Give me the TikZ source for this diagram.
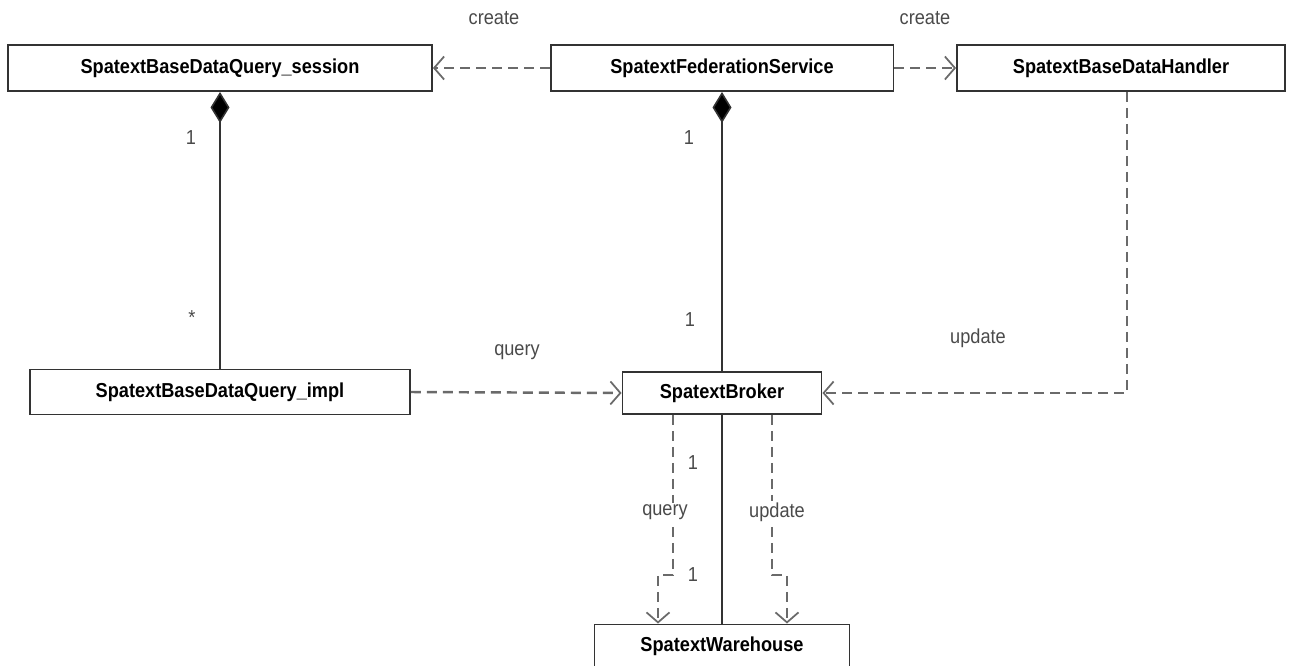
\documentclass[tikz,border=0pt]{standalone}
\usepackage{fontspec}
\setmainfont{Liberation Sans}[FakeStretch=0.9]
\usetikzlibrary{arrows.meta}
\definecolor{boxline}{HTML}{333333}
\definecolor{depline}{HTML}{6A6A6A}
\definecolor{labtext}{HTML}{4A4A4A}

\begin{document}
\begin{tikzpicture}[
  x=0.02cm, y=-0.02cm,
  font=\fontsize{11.5}{13}\selectfont,
  cls/.style={draw=boxline, line width=1.1pt, fill=white, inner sep=0pt,
              minimum height=9.2mm, font=\fontsize{11.5}{13}\selectfont\bfseries},
  lab/.style={text=labtext, inner sep=1pt},
  comp/.style={draw=boxline, line width=0.9pt,
               {Diamond[length=6.2mm, width=3.8mm, fill=black]}-},
  dep/.style={draw=depline, line width=1.4pt, dash pattern=on 2mm off 1.2mm,
              -{Straight Barb[length=2mm, width=4.6mm, line width=1pt]}},
  plain/.style={draw=boxline, line width=0.9pt}
]
\useasboundingbox (0,0) rectangle (1292,666);

% ================= classes =================
\node[cls, minimum width=84.8mm] (sess) at ( 220, 68) {SpatextBaseDataQuery\_session};
\node[cls, minimum width=68.6mm] (fed)  at ( 722, 68) {SpatextFederationService};
\node[cls, minimum width=65.6mm] (hdl)  at (1121, 68) {SpatextBaseDataHandler};
\node[cls, minimum width=76mm, minimum height=9mm] (impl) at ( 220,392) {SpatextBaseDataQuery\_impl};
\node[cls, minimum width=39.8mm, minimum height=8.4mm] (brk) at ( 722,393) {SpatextBroker};
\node[cls, minimum width=51mm, minimum height=8.6mm] (wh) at ( 722,646) {SpatextWarehouse};

% ================= compositions =================
\draw[comp] (sess.south) -- (impl.north);
\draw[comp] (fed.south)  -- (brk.north);
\draw[plain] (brk.south) -- (wh.north);

% ================= dependencies =================
\draw[dep] (fed.west) -- (sess.east);
\draw[dep] (fed.east) -- (hdl.west);
\draw[dep] (impl.east) -- (brk.west);
\draw[dep] ([xshift=1.2mm]hdl.south) |- (brk.east);
\draw[dep] ([xshift=-9.8mm]brk.south) -- ++(0,160) -| ([xshift=-12.8mm]wh.north);
\draw[dep] ([xshift=10mm]brk.south)  -- ++(0,160) -| ([xshift=13mm]wh.north);

% ================= labels =================
\node[lab] (lcr1) at ( 494, 18) {create};
\node[lab] (lcr2) at ( 925, 18) {create};
\node[lab] (m1)   at ( 191,138) {1};
\node[lab] (m2)   at ( 192,318) {*};
\node[lab] (m3)   at ( 689,138) {1};
\node[lab] (m4)   at ( 690,320) {1};
\node[lab] (lq1)  at ( 517,352) {query};
\node[lab] (lup1) at ( 978,338) {update};
\node[lab] (m5)   at ( 693,463) {1};
\node[lab, fill=white] (lq2)  at ( 665,512) {query};
\node[lab] (m6)   at ( 693,575) {1};
\node[lab, fill=white] (lup2) at ( 777,512) {update};
\end{tikzpicture}
\end{document}
